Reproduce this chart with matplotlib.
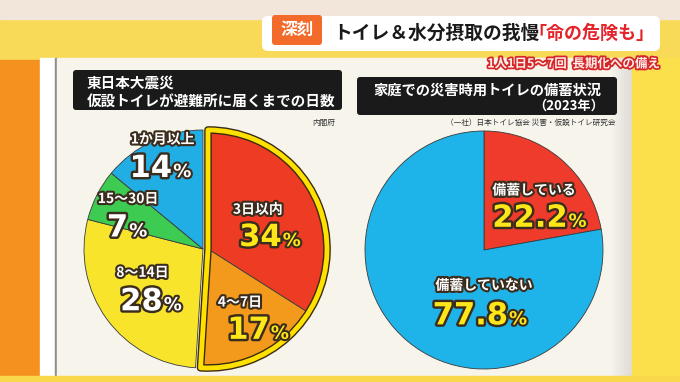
import matplotlib.pyplot as plt
import matplotlib.patches as mpatches
import matplotlib.patheffects as pe

plt.rcParams['font.family'] = ['Noto Sans CJK JP', 'DejaVu Sans']

# 東日本大震災 仮設トイレが避難所に届くまでの日数（内閣府）
days_labels = ['3日以内', '4～7日', '8～14日', '15～30日', '1か月以上']
days_values = [34, 17, 28, 7, 14]
days_colors = ['#EE3B24', '#F39A1D', '#F7E42B', '#3DCB52', '#21AEE5']
days_num_colors = ['#FFE619', '#FFE619', 'white', 'white', 'white']

# 家庭での災害時用トイレの備蓄状況（2023年）
stock_labels = ['備蓄している', '備蓄していない']
stock_values = [22.2, 77.8]
stock_colors = ['#EE3B2B', '#1EB4E9']
stock_num_colors = ['#FFE619', '#FFE619']

W, H = 680, 382
OUTLINE = [pe.withStroke(linewidth=3, foreground='#3b2d1e')]


def pie_axes(fig, cx, cy, r_px, lim=1.1):
    # cx, cy in pixels from the top-left corner
    half = r_px * lim
    ax = fig.add_axes([(cx - half) / W, (H - cy - half) / H, 2 * half / W, 2 * half / H])
    ax.patch.set_visible(False)
    return ax


def put_labels(ax, labels, values, fmt, num_colors, label_pos, num_pos):
    for lab, v, col, (lx, ly), (nx, ny) in zip(labels, values, num_colors, label_pos, num_pos):
        ax.text(lx, ly, lab, ha='center', va='center', color='white', fontsize=10,
                fontweight='bold', path_effects=OUTLINE)
        base = ny - 0.095
        ax.text(nx, base, fmt.format(v), ha='right', va='baseline', color=col, fontsize=22,
                fontweight='bold', family='DejaVu Sans',
                path_effects=[pe.withStroke(linewidth=3.5, foreground='#3b2d1e')])
        ax.text(nx + 0.01, base, '%', ha='left', va='baseline', color=col, fontsize=13,
                fontweight='bold', family='DejaVu Sans', path_effects=OUTLINE)


fig = plt.figure(figsize=(6.8, 3.82), dpi=100)
bg = fig.add_axes([0, 0, 1, 1])
bg.set_xlim(0, W)
bg.set_ylim(H, 0)
bg.axis('off')

# studio background
bg.add_patch(mpatches.Rectangle((0, 0), W, H, color='#F8DA58'))
bg.add_patch(mpatches.Rectangle((0, 0), W, 19, color='#F2E6DA'))
bg.add_patch(mpatches.Rectangle((0, 60), 40, H - 60, color='#F5911F'))
bg.add_patch(mpatches.Rectangle((40, 58), 15, H - 58, color='#FFFFFF'))
bg.add_patch(mpatches.Rectangle((55, 58), 2, H - 58, color='#8E8E8E'))
bg.add_patch(mpatches.Rectangle((57, 58), 575, 318, color='#F7F4EC'))
for i in range(10):
    bg.add_patch(mpatches.Rectangle((612 + 2 * i, 58), 2, 318, color='#9A9A9A', alpha=0.03 + 0.025 * i, lw=0))
bg.add_patch(mpatches.Rectangle((632, 58), W - 632, H - 58, color='#FCE04B'))
bg.add_patch(mpatches.Rectangle((0, 376), W, 6, color='#F9D94A'))

# headline banner
bg.add_patch(mpatches.FancyBboxPatch((262, 16), 398, 35, boxstyle='round,pad=0,rounding_size=6',
                                     fc='white', ec='none'))
bg.add_patch(mpatches.FancyBboxPatch((272, 15), 50, 30, boxstyle='round,pad=0,rounding_size=3',
                                     fc='#F26B2A', ec='none'))
bg.text(297, 30, '深刻', ha='center', va='center', color='white', fontsize=12, fontweight='bold')
bg.text(333, 33, 'トイレ＆水分摂取の我慢', ha='left', va='center', color='#1A1A1A',
        fontsize=13.5, fontweight='bold')
bg.text(528, 33, '「命の危険も」', ha='left', va='center', color='#E3242B',
        fontsize=13, fontweight='bold')
bg.text(660, 64, '1人1日5～7回  長期化への備え', ha='right', va='center', color='#FFEDEA',
        fontsize=9, fontweight='bold', path_effects=[pe.withStroke(linewidth=2.5, foreground='#D5262A')])

# title boxes
bg.add_patch(mpatches.FancyBboxPatch((73, 70), 269, 40, boxstyle='round,pad=0,rounding_size=3',
                                     fc='#1A1A1A', ec='none'))
bg.text(87, 83, '東日本大震災', ha='left', va='center', color='white', fontsize=10.5, fontweight='bold')
bg.text(87, 101, '仮設トイレが避難所に届くまでの日数', ha='left', va='center', color='white',
        fontsize=10.5, fontweight='bold')
bg.text(335, 123, '内閣府', ha='right', va='center', color='#333333', fontsize=5.5)

bg.add_patch(mpatches.FancyBboxPatch((357, 77), 260, 38, boxstyle='round,pad=0,rounding_size=3',
                                     fc='#1A1A1A', ec='none'))
bg.text(373, 91, '家庭での災害時用トイレの備蓄状況', ha='left', va='center', color='white',
        fontsize=10.3, fontweight='bold')
bg.text(604, 106, '（2023年）', ha='right', va='center', color='white', fontsize=9.5, fontweight='bold')
bg.text(616, 123, '（一社）日本トイレ協会 災害・仮設トイレ研究会', ha='right', va='center',
        color='#333333', fontsize=5.5)

# left pie
ax1 = pie_axes(fig, 203, 249, 119)
wedges, _ = ax1.pie(days_values, colors=days_colors, startangle=90, counterclock=False,
                    wedgeprops=dict(edgecolor='#3a3a3a', linewidth=0.6))
shift = 0.042
for w in wedges[:2]:
    w.set_center((shift, 0))
frac = sum(days_values[:2]) / sum(days_values)
for ec, lw in [('#3a2a10', 5.5), ('#FFE100', 3.5)]:
    ax1.add_patch(mpatches.Wedge((shift, 0), 1.0, 90 - 360 * frac, 90, fill=False, ec=ec, lw=lw,
                                 joinstyle='round'))
ax1.set_xlim(-1.1, 1.1)
ax1.set_ylim(-1.1, 1.1)
days_label_pos = [(0.46, 0.33), (0.31, -0.45), (-0.51, -0.20), (-0.63, 0.42), (-0.34, 0.92)]
days_num_pos = [(0.66, 0.12), (0.56, -0.66), (-0.34, -0.42), (-0.63, 0.20), (-0.26, 0.70)]
put_labels(ax1, days_labels, days_values, '{:d}', days_num_colors, days_label_pos, days_num_pos)

# right pie
ax2 = pie_axes(fig, 484, 250, 119)
ax2.pie(stock_values, colors=stock_colors, startangle=90, counterclock=False,
        wedgeprops=dict(edgecolor='#3a3a3a', linewidth=0.6))
ax2.set_xlim(-1.1, 1.1)
ax2.set_ylim(-1.1, 1.1)
stock_label_pos = [(0.42, 0.50), (0.0, -0.30)]
stock_num_pos = [(0.70, 0.29), (0.20, -0.53)]
put_labels(ax2, stock_labels, stock_values, '{:.1f}', stock_num_colors, stock_label_pos, stock_num_pos)

fig.savefig('out.png', dpi=100)
